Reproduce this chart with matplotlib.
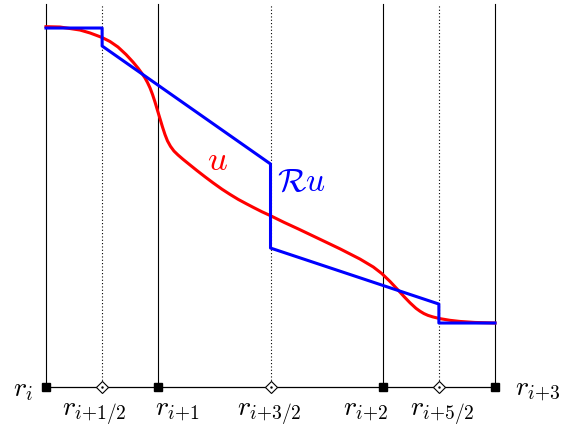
import numpy as np
import matplotlib.pyplot as plt

plt.rcParams['mathtext.fontset'] = 'cm'

# grid nodes (r_i = 0, r_{i+1} = 1, r_{i+2} = 3, r_{i+3} = 4)
nodes = [0.0, 1.0, 3.0, 4.0]
node_labels = [r'$r_i$', r'$r_{i{+}1}$', r'$r_{i{+}2}$', r'$r_{i{+}3}$']
half_nodes = [0.5, 2.0, 3.5]
half_labels = [r'$r_{i{+}1/2}$', r'$r_{i{+}3/2}$', r'$r_{i{+}5/2}$']

# smooth function u
u_x = [0.000, 0.125, 0.303, 0.392, 0.496, 0.570, 0.641, 0.713, 0.775, 0.822,
       0.855, 0.882, 0.904, 0.927, 0.949, 0.971, 0.993, 1.016, 1.038, 1.060,
       1.082, 1.109, 1.140, 1.176, 1.220, 1.283, 1.345, 1.416, 1.488, 1.568,
       1.639, 1.713, 1.782, 1.847, 1.924, 1.996, 2.120, 2.248, 2.441, 2.619,
       2.797, 2.916, 2.991, 3.065, 3.139, 3.189, 3.243, 3.296, 3.332, 3.367,
       3.403, 3.448, 3.510, 3.599, 3.688, 3.822, 4.000]
u_y = [3.210, 3.207, 3.180, 3.154, 3.115, 3.078, 3.029, 2.962, 2.895, 2.838,
       2.793, 2.753, 2.713, 2.664, 2.606, 2.539, 2.465, 2.389, 2.316, 2.249,
       2.193, 2.144, 2.102, 2.067, 2.029, 1.978, 1.928, 1.873, 1.819, 1.762,
       1.716, 1.671, 1.634, 1.600, 1.561, 1.528, 1.467, 1.408, 1.316, 1.231,
       1.140, 1.069, 1.011, 0.940, 0.861, 0.806, 0.750, 0.701, 0.675, 0.654,
       0.638, 0.624, 0.609, 0.594, 0.584, 0.575, 0.570]

# reconstruction Ru
ru_x = [0.0, 0.5, 0.5, 2.0, 2.0, 3.5, 3.5, 4.0]
ru_y = [3.198, 3.198, 3.038, 1.987, 1.238, 0.739, 0.570, 0.570]

top = 3.412

fig = plt.figure(figsize=(5.66, 4.31), dpi=100)
ax = fig.add_axes((0, 0, 1, 1))
ax.set_xlim(-46 / 112.25, 520 / 112.25)
ax.set_ylim(-43 / 112.25, 388 / 112.25)
ax.axis('off')

for x in nodes:
    ax.plot([x, x], [0, top], color='black', lw=0.8, zorder=1)
for x in half_nodes:
    ax.plot([x, x], [0, top], color='black', lw=0.8, ls=(0, (1, 2)), zorder=1)

ax.plot([nodes[0], nodes[-1]], [0, 0], color='black', lw=0.9, zorder=2)

ax.plot(u_x, u_y, color='red', lw=2.2, zorder=3, solid_joinstyle='round')
ax.plot(ru_x, ru_y, color='blue', lw=2.2, zorder=4)

ax.plot(nodes, [0] * len(nodes), 's', color='black', ms=6.2, zorder=5)
ax.plot(half_nodes, [0] * len(half_nodes), 'D', mfc='white', mec='black',
        mew=0.8, ms=6.0, zorder=5)
ax.plot(half_nodes, [0] * len(half_nodes), '.', color='black', ms=1.5, zorder=6)

# label placement (left edges), nudged to avoid overlaps like the original
fs = 20
ax.text(-0.11, -0.071, node_labels[0], ha='right', va='baseline', fontsize=fs)
ax.text(4.178, -0.071, node_labels[3], ha='left', va='baseline', fontsize=fs)
bottom_left = {1.0: 0.971, 3.0: 2.646, 0.5: 0.142, 2.0: 1.702, 3.5: 3.243}
for x, lab in zip(nodes[1:3] + half_nodes, node_labels[1:3] + half_labels):
    ax.text(bottom_left[x], -0.247, lab, ha='left', va='baseline', fontsize=fs)

ax.text(1.434, 1.942, r'$u$', color='red', ha='left', va='baseline', fontsize=25)
ax.text(2.058, 1.755, r'$\mathcal{R}u$', color='blue', ha='left', va='baseline', fontsize=24)

fig.savefig('out.png', dpi=100)
